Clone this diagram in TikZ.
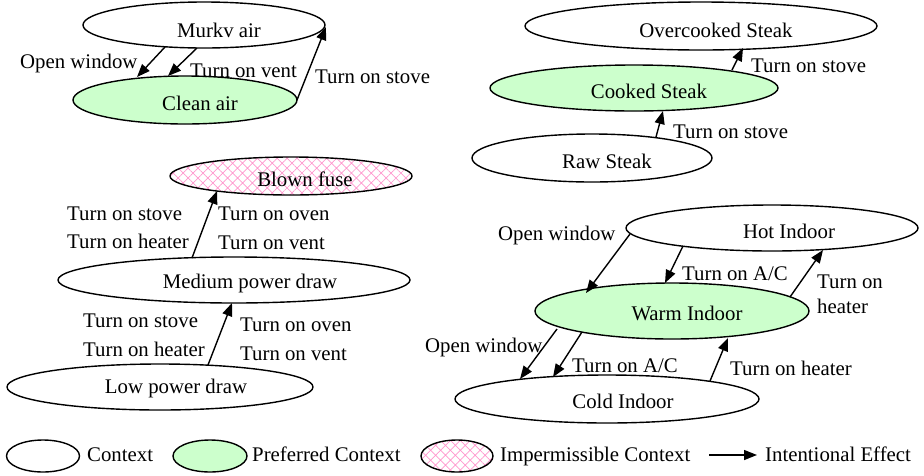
\documentclass[tikz,border=0pt]{standalone}
\usepackage{fontspec}
\setmainfont{Liberation Serif}
\usetikzlibrary{shapes.geometric,arrows.meta,patterns.meta,calc}
\definecolor{prefgreen}{RGB}{204,255,204}
\definecolor{hatchpink}{RGB}{255,150,205}
\begin{document}
\begin{tikzpicture}[x=1pt,y=-1pt,
  every node/.append style={font=\fontsize{20.8}{24}\selectfont},
  esize/.style 2 args={minimum width=#1pt, minimum height=#2pt},
  ctx/.style={ellipse, draw, line width=1.4pt, inner sep=0pt, outer sep=0pt, fill=white},
  pref/.style={ctx, fill=prefgreen},
  bad/.style={ctx, pattern={Hatch[angle=45,distance=7pt,line width=0.7pt]}, pattern color=hatchpink},
  ctxt/.style={anchor=base, inner sep=0pt},
  lbl/.style={anchor=base west, inner sep=0pt},
  arr/.style={line width=1.4pt, -{Triangle[length=13pt,width=10pt]}}]
\useasboundingbox (0,0) rectangle (924,475);

% air quality
\node[ctx, esize={242}{46}] (murky) at (204,25) {};
\node[ctxt] at (219,37) {Murkv air};
\node[pref, esize={224}{48}] (clean) at (185,100) {};
\node[ctxt] at (200,110) {Clean air};
\draw[arr] ($(murky)+(-39,22)$) -- ($(clean)+(-48,-23)$);
\draw[arr] ($(murky)+(-7,23)$) -- ($(clean)+(-17,-24)$);
\draw[arr] ($(clean)+(112,0)$) -- ($(murky)+(122,2)$);
\node[lbl] at (20,68) {Open window};
\node[lbl] at (190,77) {Turn on vent};
\node[lbl] at (315,83) {Turn on stove};

% steak
\node[ctx, esize={352}{48}] (over) at (701,26) {};
\node[ctxt] at (716,37) {Overcooked Steak};
\node[pref, esize={288}{46}] (cooked) at (634,88) {};
\node[ctxt] at (649,98) {Cooked Steak};
\node[ctx, esize={240}{48}] (raw) at (592,158) {};
\node[ctxt] at (607,168) {Raw Steak};
\draw[arr] ($(raw)+(64,-21)$) -- ($(cooked)+(29,23)$);
\draw[arr] ($(cooked)+(98,-18)$) -- ($(over)+(42,22)$);
\node[lbl] at (751,72) {Turn on stove};
\node[lbl] at (673,138) {Turn on stove};

% power draw
\node[bad, esize={242}{38}] (blown) at (291,176) {};
\node[ctxt] at (305,186) {Blown fuse};
\node[ctx, esize={352}{46}] (medium) at (234,280) {};
\node[ctxt] at (250,288) {Medium power draw};
\node[ctx, esize={306}{46}] (low) at (160,387) {};
\node[ctxt] at (176,393) {Low power draw};
\draw[arr] ($(medium)+(-42,-22)$) -- ($(blown)+(-74,15)$);
\draw[arr] ($(low)+(48,-22)$) -- ($(medium)+(-2,23)$);
\node[lbl] at (67,220) {Turn on stove};
\node[lbl] at (67,248) {Turn on heater};
\node[lbl] at (218,220) {Turn on oven};
\node[lbl] at (218,249) {Turn on vent};
\node[lbl] at (83,327) {Turn on stove};
\node[lbl] at (83,356) {Turn on heater};
\node[lbl] at (240,331) {Turn on oven};
\node[lbl] at (240,360) {Turn on vent};

% indoor temperature
\node[ctx, esize={292}{46}] (hot) at (772,228) {};
\node[ctxt] at (789,238) {Hot Indoor};
\node[pref, esize={274}{56}] (warm) at (672,311) {};
\node[ctxt] at (687,320) {Warm Indoor};
\node[ctx, esize={304}{48}] (cold) at (607,399) {};
\node[ctxt] at (623,408) {Cold Indoor};
\draw[arr] ($(hot)+(-142,6)$) -- ($(warm)+(-86,-18)$);
\draw[arr] ($(hot)+(-89,18)$) -- ($(warm)+(-7,-28)$);
\draw[arr] ($(warm)+(118,-14)$) -- ($(hot)+(51,22)$);
\draw[arr] ($(warm)+(-115,18)$) -- ($(cold)+(-87,-20)$);
\draw[arr] ($(warm)+(-90,21)$) -- ($(cold)+(-54,-22)$);
\draw[arr] ($(cold)+(103,-18)$) -- ($(warm)+(56,27)$);
\node[lbl] at (498,240) {Open window};
\node[lbl] at (682,280) {Turn on A/C};
\node[lbl] at (817,288) {Turn on};
\node[lbl] at (817,313) {heater};
\node[lbl] at (425,352) {Open window};
\node[lbl] at (572,372) {Turn on A/C};
\node[lbl] at (730,375) {Turn on heater};

% legend
\node[ctx, esize={73}{32}] (kctx) at (43,456) {};
\node[lbl] at (87,461) {Context};
\node[pref, esize={74}{32}] (kpref) at (210,456) {};
\node[lbl] at (252,461) {Preferred Context};
\node[bad, esize={72}{32}] (kbad) at (457,456) {};
\node[lbl] at (500,461) {Impermissible Context};
\coordinate (ka) at (709,455);
\coordinate (kb) at (757,455);
\draw[arr] (ka) -- (kb);
\node[lbl] at (765,461) {Intentional Effect};
\end{tikzpicture}
\end{document}
